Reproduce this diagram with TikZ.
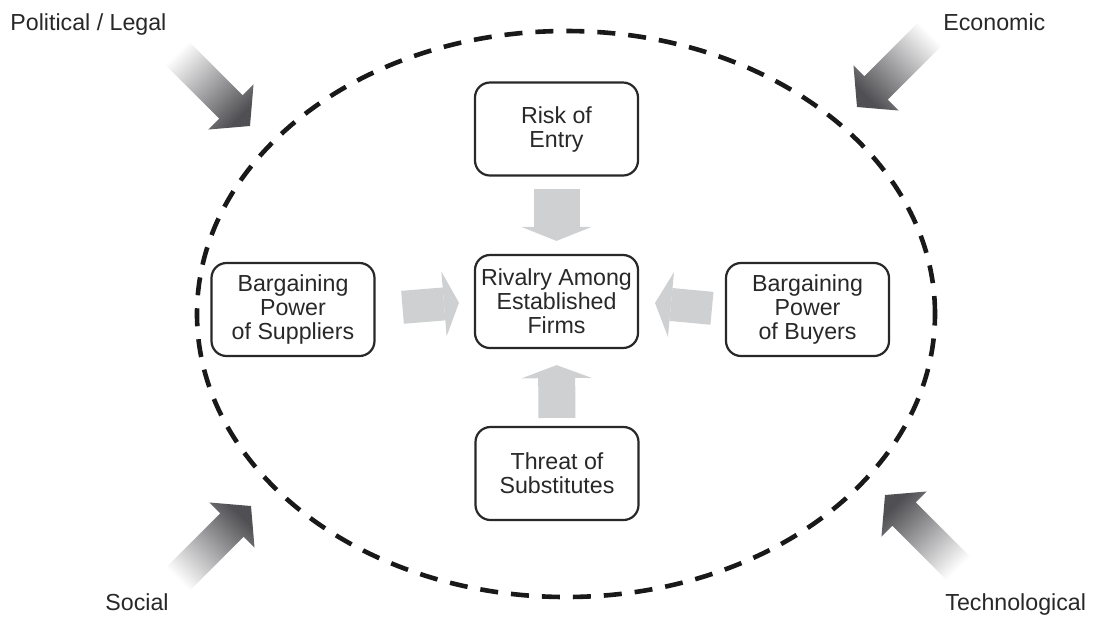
\documentclass[tikz,border=0pt]{standalone}
\usepackage{fontspec}
\setmainfont{Liberation Sans}
\usetikzlibrary{arrows.meta,calc,shapes.geometric}
\definecolor{ink}{RGB}{40,40,40}
\definecolor{dashink}{RGB}{25,25,25}
\definecolor{flowgray}{RGB}{206,208,210}
\definecolor{forcedark}{RGB}{80,80,84}
\tikzset{
  box/.style={draw=ink, line width=1.1pt, rounded corners=7.5pt,
    minimum width=81.5pt, minimum height=46.5pt, align=center, inner sep=0pt,
    text=ink, font=\fontsize{11.6pt}{12pt}\selectfont},
  envlabel/.style={anchor=base west, inner sep=0pt, text=ink,
    font=\fontsize{11.6pt}{14pt}\selectfont},
  flow/.style={draw=flowgray, line cap=butt},
  force/.style={shading=axis, bottom color=white, top color=forcedark}
}
\newcommand\forcearrow[3]{%
  \path[force, shading angle=#3] (#1)
    -- ($(#1)+(#2:27)+(#2+90:32)$)
    -- ($(#1)+(#2:27)+(#2+90:16.5)$)
    -- ($(#1)+(#2:106)+(#2+90:16.5)$)
    -- ($(#1)+(#2:106)+(#2-90:16.5)$)
    -- ($(#1)+(#2:27)+(#2-90:16.5)$)
    -- ($(#1)+(#2:27)+(#2-90:32)$) -- cycle;}
\begin{document}
\begin{tikzpicture}[x=0.5pt, y=-0.5pt]
\fill[white] (0,0) rectangle (1093,618);
\useasboundingbox (0,0) rectangle (1093,618);

% environment
\node[draw=dashink, ellipse, line width=2.3pt, dash pattern=on 9pt off 6.5pt,
  minimum width=369pt, minimum height=283pt, inner sep=0pt] (env) at (566,314) {};

% boxes
\node[box] (risk) at (556.5,129) {Risk of\\Entry};
\node[box] (rivalry) at (556.5,301.5) {Rivalry Among\\Established\\Firms};
\node[box] (threat) at (557,473.5) {Threat of\\Substitutes};
\node[box] (suppliers) at (293,309.5) {Bargaining\\Power\\of Suppliers};
\node[box] (buyers) at (807.5,309.5) {Bargaining\\Power\\of Buyers};

% gray flow arrows
\draw[flow, line width=23pt, -{Triangle[length=7pt, width=35pt, line width=0pt]},
  shorten <=6pt, shorten >=6.5pt] (risk.south) -- (rivalry.north);
\draw[flow, line width=18.5pt, -{Triangle[length=6.5pt, width=35pt, line width=0pt]},
  shorten <=4pt, shorten >=8pt] (threat.north) -- (rivalry.south);
\draw[flow, line width=16.5pt, -{Triangle[length=7.5pt, width=32.5pt, line width=0pt]},
  shorten <=13.5pt, shorten >=7.5pt] (suppliers.east) -- (rivalry.west);
\draw[flow, line width=16.5pt, -{Triangle[length=8pt, width=32.5pt, line width=0pt]},
  shorten <=6.5pt, shorten >=8pt] (buyers.west) -- (rivalry.east);

% labels
\node[envlabel] (political) at (10,30) {Political / Legal};
\node[envlabel] (economic) at (943,30.5) {Economic};
\node[envlabel] (social) at (105,610) {Social};
\node[envlabel] (technological) at (945,610.5) {Technological};

% force arrows
\coordinate (ptip) at (250,126);
\coordinate (etip) at (857,107);
\coordinate (stip) at (251,506);
\coordinate (ttip) at (885,495);
\forcearrow{ptip}{225}{225}
\forcearrow{etip}{315}{135}
\forcearrow{stip}{135}{315}
\forcearrow{ttip}{45}{45}
\end{tikzpicture}
\end{document}
